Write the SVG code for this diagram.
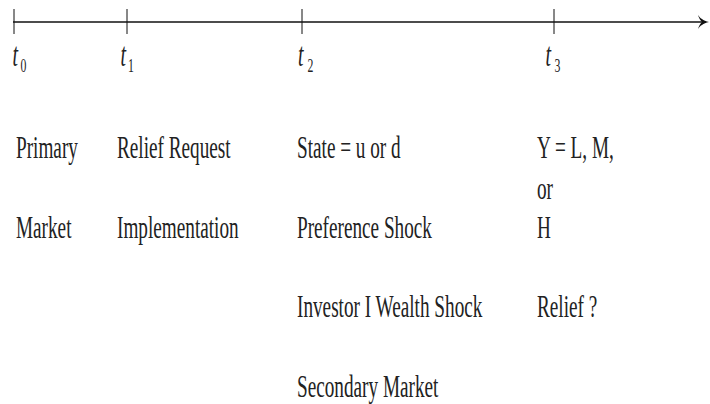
<svg xmlns="http://www.w3.org/2000/svg" width="710" height="404" viewBox="0 0 710 404">
<style>
.lbl{font-family:"Liberation Serif","DejaVu Serif",serif;font-size:31px;fill:#222}
.tt{font-family:"Liberation Serif","DejaVu Serif",serif;font-size:33px;font-style:italic;fill:#222}
.sub{font-family:"Liberation Serif","DejaVu Serif",serif;font-size:19px;fill:#222}
.axis{stroke:#111;stroke-width:1.6;fill:none}
.tick{stroke:#111;stroke-width:1;fill:none}
</style>
<rect width="710" height="404" fill="#fff"/>
<g id="connectors">
<line class="axis" x1="13" y1="22" x2="704" y2="22"/>
<path d="M709,22 C703,23.5 700,26 698,29 C699,25.5 700.5,23.5 702,22 C700.5,20.5 699,18.5 698,15 C700,18 703,20.5 709,22 Z" fill="#111"/>
<line class="tick" x1="14" y1="9" x2="14" y2="34"/>
<line class="tick" x1="127" y1="9" x2="127" y2="34"/>
<line class="tick" x1="302" y1="9" x2="302" y2="34"/>
<line class="tick" x1="554" y1="9" x2="554" y2="34"/>
</g>
<g id="t0"><text class="tt" transform="translate(12.5,66) scale(0.6,1)">t</text><text class="sub" transform="translate(20.5,72) scale(0.62,1)">0</text></g>
<g id="t1"><text class="tt" transform="translate(120.5,66) scale(0.6,1)">t</text><text class="sub" transform="translate(128,72) scale(0.62,1)">1</text></g>
<g id="t2"><text class="tt" transform="translate(298,66) scale(0.6,1)">t</text><text class="sub" transform="translate(307.5,72) scale(0.62,1)">2</text></g>
<g id="t3"><text class="tt" transform="translate(545.5,66) scale(0.6,1)">t</text><text class="sub" transform="translate(554.5,72) scale(0.62,1)">3</text></g>
<g id="col0">
<text class="lbl" transform="translate(16,158) scale(0.62,1)">Primary</text>
<text class="lbl" transform="translate(16,238) scale(0.62,1)">Market</text>
</g>
<g id="col1">
<text class="lbl" transform="translate(117,158) scale(0.62,1)">Relief Request</text>
<text class="lbl" transform="translate(117,238) scale(0.62,1)">Implementation</text>
</g>
<g id="col2">
<text class="lbl" transform="translate(297,158) scale(0.62,1)">State = u or d</text>
<text class="lbl" transform="translate(297,238) scale(0.62,1)">Preference Shock</text>
<text class="lbl" transform="translate(297,317) scale(0.62,1)">Investor I Wealth Shock</text>
<text class="lbl" transform="translate(297,397) scale(0.62,1)">Secondary Market</text>
</g>
<g id="col3">
<text class="lbl" transform="translate(537,158) scale(0.62,1)">Y = L, M,</text>
<text class="lbl" transform="translate(537,199) scale(0.62,1)">or</text>
<text class="lbl" transform="translate(537,238) scale(0.62,1)">H</text>
<text class="lbl" transform="translate(537,317) scale(0.62,1)">Relief ?</text>
</g>
</svg>
